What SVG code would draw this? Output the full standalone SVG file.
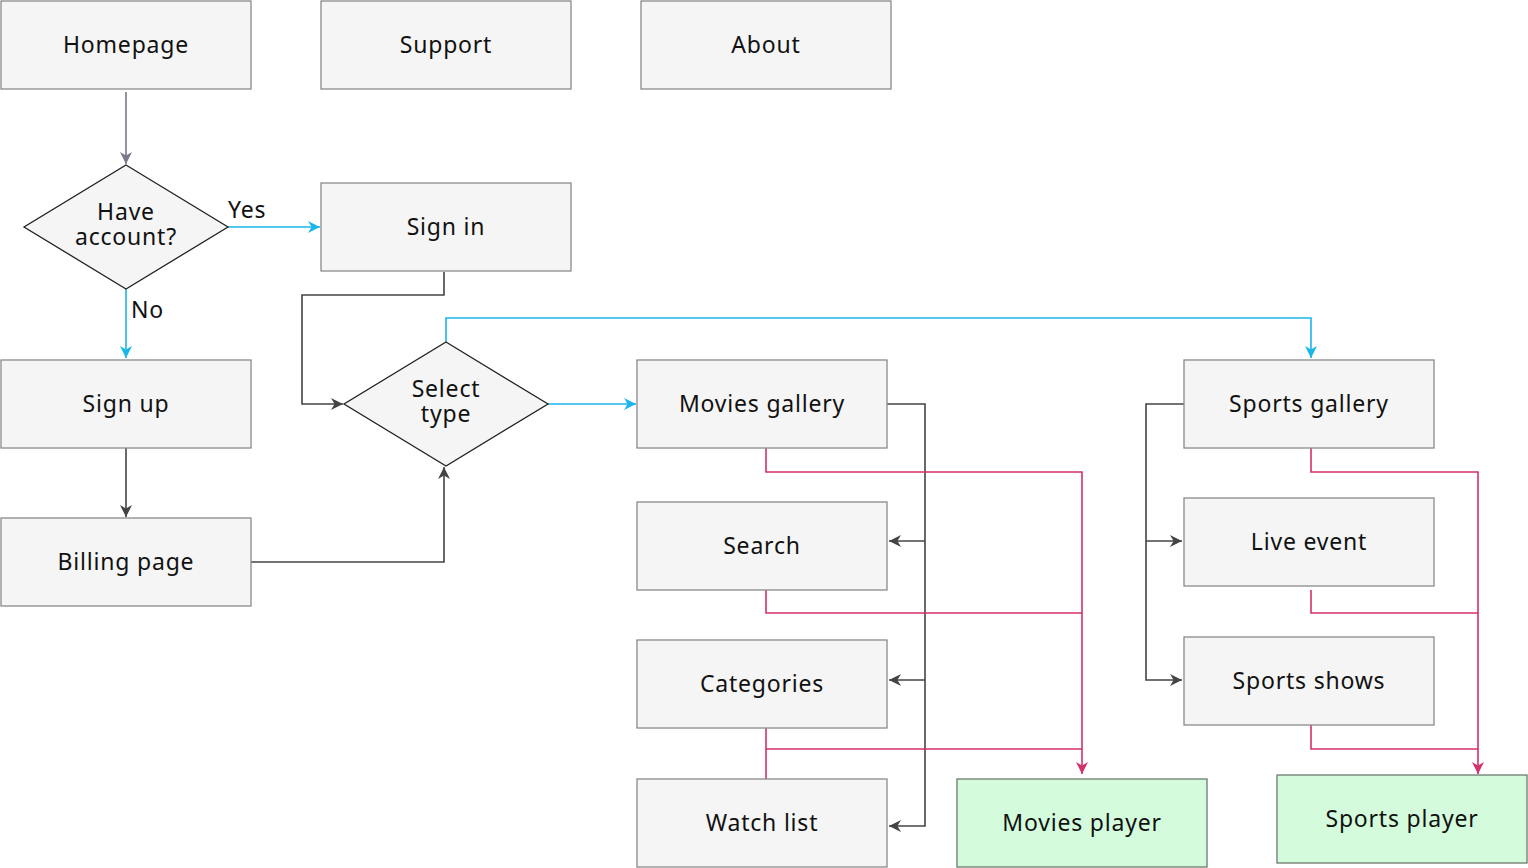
<svg xmlns="http://www.w3.org/2000/svg" width="1528" height="868" viewBox="0 0 1528 868">
<style>
.box{fill:#f5f5f5;stroke:#8a8a8a;stroke-width:1.3}
.green{fill:#d4fcdc;stroke:#6a7a6e;stroke-width:1.3}
.dia{fill:#f5f5f5;stroke:#222;stroke-width:1.3}
text{font-family:"Noto Sans","Open Sans",sans-serif;font-size:23px;letter-spacing:0.8px;fill:#111;text-anchor:middle}
.lbl{text-anchor:start}
.c{fill:none;stroke-width:1.6}
.dark{stroke:#444}
.gp{stroke:#7a7a88}
.cy{stroke:#1ab6ea}
.pk{stroke:#d4306c}
</style>
<defs>
<marker id="ad" viewBox="0 0 10 10" refX="10" refY="5" markerWidth="12" markerHeight="12" markerUnits="userSpaceOnUse" orient="auto"><path d="M0,0 L10,5 L0,10 L3,5 z" fill="#444"/></marker>
<marker id="ag" viewBox="0 0 10 10" refX="10" refY="5" markerWidth="12" markerHeight="12" markerUnits="userSpaceOnUse" orient="auto"><path d="M0,0 L10,5 L0,10 L3,5 z" fill="#7a7a88"/></marker>
<marker id="ac" viewBox="0 0 10 10" refX="10" refY="5" markerWidth="12" markerHeight="12" markerUnits="userSpaceOnUse" orient="auto"><path d="M0,0 L10,5 L0,10 L3,5 z" fill="#1ab6ea"/></marker>
<marker id="ap" viewBox="0 0 10 10" refX="10" refY="5" markerWidth="12" markerHeight="12" markerUnits="userSpaceOnUse" orient="auto"><path d="M0,0 L10,5 L0,10 L3,5 z" fill="#d4306c"/></marker>
</defs>
<g id="connectors">
<path class="c gp" d="M126,92 V164" marker-end="url(#ag)"/>
<path class="c cy" d="M228,227 H320" marker-end="url(#ac)"/>
<path class="c cy" d="M126,289 V358" marker-end="url(#ac)"/>
<path class="c dark" d="M126,448 V517" marker-end="url(#ad)"/>
<path class="c dark" d="M251,562 H444 V467" marker-end="url(#ad)"/>
<path class="c dark" d="M444,272 V295 H302 V404 H343" marker-end="url(#ad)"/>
<path class="c cy" d="M548,404 H636" marker-end="url(#ac)"/>
<path class="c cy" d="M446,342 V318 H1311 V358" marker-end="url(#ac)"/>
<path class="c dark" d="M887,404 H925 V826 H889" marker-end="url(#ad)"/>
<path class="c dark" d="M925,541 H889" marker-end="url(#ad)"/>
<path class="c dark" d="M925,680 H889" marker-end="url(#ad)"/>
<path class="c dark" d="M1184,404 H1146 V680 H1182" marker-end="url(#ad)"/>
<path class="c dark" d="M1146,541 H1182" marker-end="url(#ad)"/>
<path class="c pk" d="M766,448 V472 H1082 V774" marker-end="url(#ap)"/>
<path class="c pk" d="M766,590 V613 H1082"/>
<path class="c pk" d="M766,728 V749 H1082"/>
<path class="c pk" d="M766,779 V749"/>
<path class="c pk" d="M1311,448 V472 H1478 V774" marker-end="url(#ap)"/>
<path class="c pk" d="M1311,590 V613 H1478"/>
<path class="c pk" d="M1311,725 V749 H1478"/>
<text class="lbl" x="228" y="218">Yes</text>
<text class="lbl" x="131" y="318">No</text>
</g>
<g id="homepage"><rect class="box" x="1" y="1" width="250" height="88"/><text x="126" y="53">Homepage</text></g>
<g id="support"><rect class="box" x="321" y="1" width="250" height="88"/><text x="446" y="53">Support</text></g>
<g id="about"><rect class="box" x="641" y="1" width="250" height="88"/><text x="766" y="53">About</text></g>
<g id="have-account"><polygon class="dia" points="126,165 228,227 126,289 24,227"/><text x="126" y="220">Have</text><text x="126" y="245">account?</text></g>
<g id="sign-in"><rect class="box" x="321" y="183" width="250" height="88"/><text x="446" y="235">Sign in</text></g>
<g id="sign-up"><rect class="box" x="1" y="360" width="250" height="88"/><text x="126" y="412">Sign up</text></g>
<g id="billing"><rect class="box" x="1" y="518" width="250" height="88"/><text x="126" y="570">Billing page</text></g>
<g id="select-type"><polygon class="dia" points="446,342 548,404 446,466 344,404"/><text x="446" y="397">Select</text><text x="446" y="422">type</text></g>
<g id="movies-gallery"><rect class="box" x="637" y="360" width="250" height="88"/><text x="762" y="412">Movies gallery</text></g>
<g id="search"><rect class="box" x="637" y="502" width="250" height="88"/><text x="762" y="554">Search</text></g>
<g id="categories"><rect class="box" x="637" y="640" width="250" height="88"/><text x="762" y="692">Categories</text></g>
<g id="watch-list"><rect class="box" x="637" y="779" width="250" height="88"/><text x="762" y="831">Watch list</text></g>
<g id="movies-player"><rect class="green" x="957" y="779" width="250" height="88"/><text x="1082" y="831">Movies player</text></g>
<g id="sports-gallery"><rect class="box" x="1184" y="360" width="250" height="88"/><text x="1309" y="412">Sports gallery</text></g>
<g id="live-event"><rect class="box" x="1184" y="498" width="250" height="88"/><text x="1309" y="550">Live event</text></g>
<g id="sports-shows"><rect class="box" x="1184" y="637" width="250" height="88"/><text x="1309" y="689">Sports shows</text></g>
<g id="sports-player"><rect class="green" x="1277" y="775" width="250" height="88"/><text x="1402" y="827">Sports player</text></g>
</svg>
